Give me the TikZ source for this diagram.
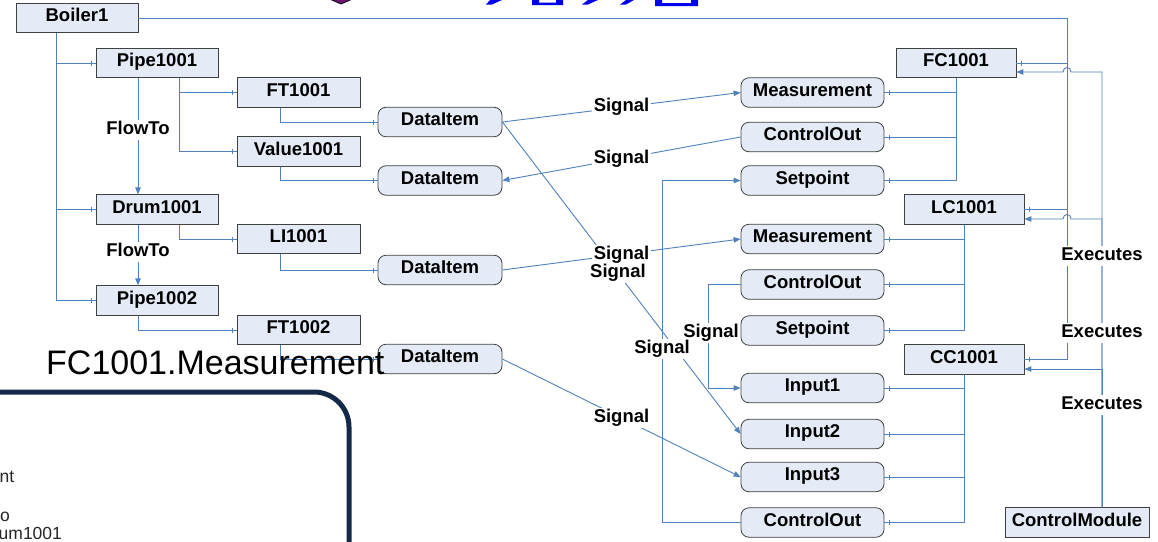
\documentclass[tikz,border=0pt]{standalone}
\usepackage{fontspec}
\setmainfont{Liberation Sans}
\usetikzlibrary{arrows.meta,decorations.markings,calc}

\definecolor{linkblue}{RGB}{79,129,189}
\definecolor{boxfill}{RGB}{228,235,247}
\definecolor{boxgray}{RGB}{64,64,64}
\definecolor{panelnavy}{RGB}{20,40,72}
\definecolor{titleblue}{RGB}{0,0,235}
\definecolor{titlepurple}{RGB}{112,20,120}

\begin{document}
\begin{tikzpicture}[x=1pt,y=-1pt,
  ent/.style={draw=boxgray, fill=boxfill, line width=0.8pt,
    minimum width=#1, minimum height=29.5pt, inner sep=0pt,
    text height=13pt, text depth=6pt,
    font=\bfseries\fontsize{18.5}{20}\selectfont},
  ent/.default=122pt,
  itm/.style={ent=#1, rounded corners=8pt},
  itm/.default=124pt,
  conn/.style={draw=linkblue, line width=0.9pt},
  tk/.style={conn, postaction={decorate, decoration={markings,
    mark=at position -4.5pt with {\draw[linkblue, line width=0.7pt] (0,-2.5pt) -- (0,2.5pt);}}}},
  ar/.style={conn, -{Triangle[length=7pt,width=5.5pt]}},
  lbl/.style={fill=white, inner sep=1.5pt, text height=13pt, text depth=4pt,
    font=\bfseries\fontsize{18.5}{20}\selectfont}
]
\useasboundingbox (0,0) rectangle (1158,541);
\clip (0,0) rectangle (1158,541);
\fill[white] (0,0) rectangle (1158,541);

% fragments of the slide heading along the top edge
\filldraw[fill=titlepurple, draw=black, line width=0.8pt] (325,-3) -- (341,4) -- (357,-3);
\fill[titleblue] (490,0) -- (502,0) -- (492,4.5) -- (486,4.5) -- cycle;
\fill[titleblue] (532,0) -- (539,0) -- (539,2.5) -- (556,2.5) -- (556,0) -- (563,0) -- (563,5) -- (532,5) -- cycle;
\fill[titleblue] (588,0) -- (598,0) -- (588,4.5) -- (582,4.5) -- cycle;
\fill[titleblue] (626,0) -- (634,0) -- (626,4.5) -- (620,4.5) -- cycle;
\fill[titleblue] (655,0) -- (662,0) -- (662,3) -- (691,3) -- (691,0) -- (698,0) -- (698,6) -- (655,6) -- cycle;

% property panel in the lower left
\draw[panelnavy, line width=5pt, rounded corners=35pt] (-30,392) -- (349,392) -- (349,580);
\begin{scope}[every node/.style={anchor=base west, inner sep=0pt, text=black!85, font=\fontsize{17.5}{19}\selectfont}]
  \node (pnA) at (-0.5,482) {nt};
  \node (pnB) at (0,521) {o};
  \node (pnC) at (-1.5,539) {um1001};
\end{scope}

% plant equipment
\node[ent] (boiler) at (77,18) {Boiler1};
\node[ent] (pipeA) at (157,63) {Pipe1001};
\node[ent=123pt] (ftA) at (298.5,92.5) {FT1001};
\node[ent=123pt] (valve) at (298.5,151.5) {Value1001};
\node[ent] (drum) at (157,209.5) {Drum1001};
\node[ent=123pt] (li) at (298.5,239) {LI1001};
\node[ent] (pipeB) at (157,300.5) {Pipe1002};
\node[ent=123pt] (ftB) at (298.5,330) {FT1002};

% data items
\node[itm] (diA) at (440,122) {DataItem};
\node[itm] (diB) at (440,180.5) {DataItem};
\node[itm] (diC) at (440,270) {DataItem};
\node[itm] (diD) at (440,359) {DataItem};

% controller ports
\node[itm=143pt] (meA) at (812.5,92.5) {Measurement};
\node[itm=143pt] (coA) at (812.5,137) {ControlOut};
\node[itm=143pt] (spA) at (812.5,180.5) {Setpoint};
\node[itm=143pt] (meB) at (812.5,239) {Measurement};
\node[itm=143pt] (coB) at (812.5,284.5) {ControlOut};
\node[itm=143pt] (spB) at (812.5,330.5) {Setpoint};
\node[itm=143pt] (inA) at (812.5,388) {Input1};
\node[itm=143pt] (inB) at (812.5,434) {Input2};
\node[itm=143pt] (inC) at (812.5,477) {Input3};
\node[itm=143pt] (coC) at (812.5,522.5) {ControlOut};

% controllers and control module
\node[ent=120pt] (fc) at (956,63) {FC1001};
\node[ent=120pt] (lc) at (964,209.5) {LC1001};
\node[ent=120pt] (cc) at (964,359.5) {CC1001};
\node[ent=144pt] (cm) at (1077,522.5) {ControlModule};

% boiler composition
\draw[tk] ([xshift=-21pt]boiler.south) |- (pipeA.west);
\draw[tk] ([xshift=-21pt]boiler.south) |- (drum.west);
\draw[tk] ([xshift=-21pt]boiler.south) |- (pipeB.west);
\draw[tk] (boiler.east) -| (1067,63) -- (fc.east);
\draw[tk] (boiler.east) -| (1067,209.5) -- (lc.east);
\draw[tk] (boiler.east) -| (1067,359.5) -- (cc.east);

% equipment to instruments
\draw[tk] ([xshift=22pt]pipeA.south) |- (ftA.west);
\draw[tk] ([xshift=22pt]pipeA.south) |- (valve.west);
\draw[tk] ([xshift=22pt]drum.south) |- (li.west);
\draw[tk] ([xshift=-19pt]pipeB.south) |- (ftB.west);
\draw[ar] ([xshift=-19pt]pipeA.south) -- ([xshift=-19pt]drum.north);
\draw[ar] ([xshift=-19pt]drum.south) -- ([xshift=-19pt]pipeB.north);

% instruments to data items
\draw[tk] ([xshift=-18.5pt]ftA.south) |- (diA.west);
\draw[tk] ([xshift=-18.5pt]valve.south) |- (diB.west);
\draw[tk] ([xshift=-18.5pt]li.south) |- (diC.west);
\draw[tk] ([xshift=-18.5pt]ftB.south) |- (diD.west);

% controllers to their ports
\foreach \p in {meA,coA,spA} \draw[tk] (fc.south) |- (\p.east);
\foreach \p in {meB,coB,spB} \draw[tk] (lc.south) |- (\p.east);
\foreach \p in {inA,inB,inC,coC} \draw[tk] (cc.south) |- (\p.east);

% signals
\draw[ar] (diA.east) -- (meA.west);
\draw[ar] (coA.west) -- (diB.east);
\draw[ar] (diC.east) -- (meB.west);
\draw[ar] (diA.east) -- (inB.west);
\draw[ar] (diD.east) -- (inC.west);
\draw[ar] (coB.west) -| (708,333) |- (inA.west);
\draw[ar] (coC.west) -| (662,349) |- (spA.west);

% control module executes the controllers
\draw[ar] ([xshift=25pt]cm.north) |- (1071,72) .. controls (1071,66) and (1063,66) .. (1063,72) -- ([yshift=-9pt]fc.east);
\draw[ar] ([xshift=25pt]cm.north) |- (1071,219) .. controls (1071,213) and (1063,213) .. (1063,219) -- ([yshift=-9.5pt]lc.east);
\draw[ar] ([xshift=25pt]cm.north) |- ([yshift=-9.5pt]cc.east);

% connector labels
\path ([xshift=-19pt]pipeA.south) -- node[lbl, pos=0.45]{FlowTo} ([xshift=-19pt]drum.north);
\path ([xshift=-19pt]drum.south) -- node[lbl, pos=0.45]{FlowTo} ([xshift=-19pt]pipeB.north);
\path (diA.east) -- node[lbl, pos=0.5]{Signal} (meA.west);
\path (coA.west) -- node[lbl]{Signal} (diB.east);
\path (diC.east) -- node[lbl, pos=0.5]{Signal} (meB.west);
\path (diA.east) -- node[lbl, pos=0.485]{Signal} (inB.west);
\path (diD.east) -- node[lbl]{Signal} (inC.west);
\path (coB.west) -| (708,333) node[lbl, xshift=3pt]{Signal} |- (inA.west);
\path (coC.west) -| (662,349) node[lbl]{Signal} |- (spA.west);
\path ([xshift=25pt]cm.north) |- node[lbl, pos=0.289]{Executes} ([yshift=-9pt]fc.east);
\path ([xshift=25pt]cm.north) |- node[lbl, pos=0.303]{Executes} ([yshift=-9.5pt]lc.east);
\path ([xshift=25pt]cm.north) |- node[lbl, pos=0.37]{Executes} ([yshift=-9.5pt]cc.east);

% caption of the selected port
\node[anchor=base west, inner sep=0pt, font=\fontsize{34}{40}\selectfont] (caption) at (46,374) {FC1001.Measurement};
\end{tikzpicture}
\end{document}
